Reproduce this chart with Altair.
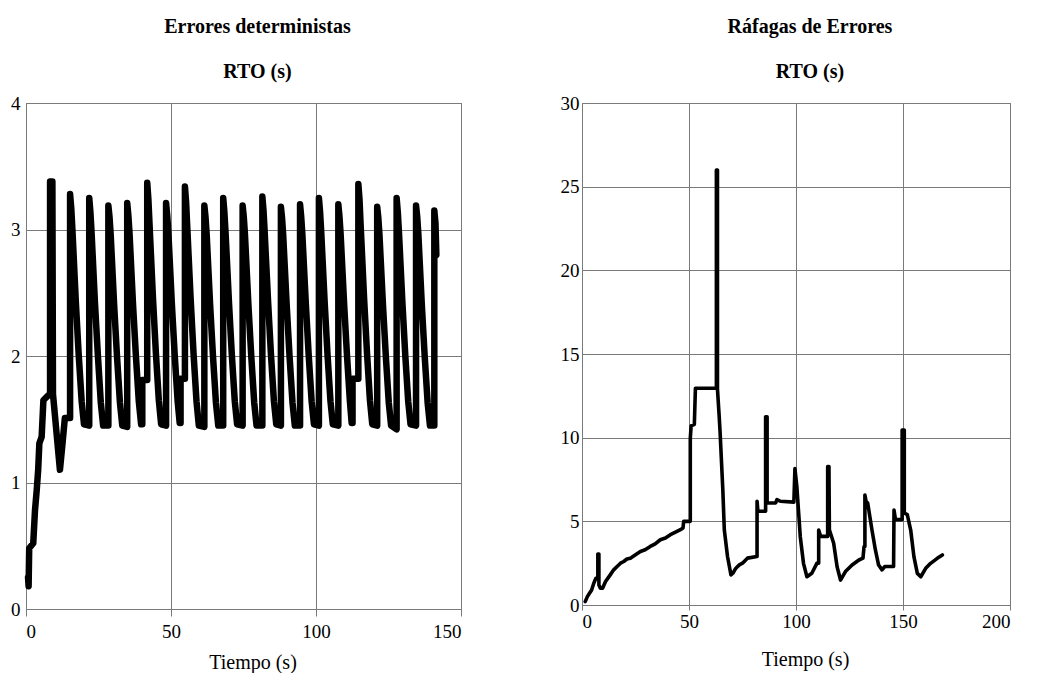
import altair as alt
import pandas as pd

FONT = "'Liberation Serif', 'Times New Roman', Times, serif"

# ---------------- Left panel: Errores deterministas ----------------
det_t = [
    0.7, 0.9, 1.1, 2.5, 3.1, 3.7, 4.2, 4.6, 5.4, 6.0, 7.7, 8.3,
    8.3, 9.1, 9.3, 11.7, 12.6, 13.4, 15.2,
    15.2, 15.6, 16.0, 17.2, 18.2, 19.2, 20.0, 21.8,
    21.8, 22.2, 22.6, 23.8, 24.8, 25.8, 26.6, 28.4,
    28.4, 28.8, 29.2, 30.4, 31.4, 32.4, 33.2, 34.9,
    34.9, 35.3, 35.7, 36.9, 37.9, 38.9, 39.7, 40.1, 40.1, 41.8,
    41.8, 42.2, 42.6, 43.8, 44.8, 45.8, 46.6, 48.3,
    48.3, 48.7, 49.1, 50.3, 51.3, 52.3, 53.0, 53.3, 53.3, 54.8,
    54.8, 55.2, 55.6, 56.8, 57.8, 58.8, 59.6, 61.5,
    61.5, 61.9, 62.3, 63.5, 64.5, 65.5, 66.3, 68.0,
    68.0, 68.4, 68.8, 70.0, 71.0, 72.0, 72.8, 74.7,
    74.7, 75.1, 75.5, 76.7, 77.7, 78.7, 79.5, 81.5,
    81.5, 81.9, 82.3, 83.5, 84.5, 85.5, 86.3, 87.9,
    87.9, 88.3, 88.7, 89.9, 90.9, 91.9, 92.7, 94.5,
    94.5, 94.9, 95.3, 96.5, 97.5, 98.5, 99.3, 101.0,
    101.0, 101.4, 101.8, 103.0, 104.0, 105.0, 105.8, 107.7,
    107.7, 108.1, 108.5, 109.7, 110.7, 111.7, 112.3, 112.6, 112.6, 114.6,
    114.6, 115.0, 115.4, 116.6, 117.6, 118.6, 119.4, 121.1,
    121.1, 121.5, 121.9, 123.1, 124.1, 125.1, 125.9, 127.8,
    127.8, 128.2, 128.6, 129.8, 130.8, 131.8, 132.6, 134.5,
    134.5, 134.9, 135.3, 136.5, 137.5, 138.5, 139.3, 140.8,
    140.8, 141.2, 141.5,
]
det_v = [
    0.25, 0.18, 0.48, 0.52, 0.78, 0.94, 1.10, 1.31, 1.36, 1.65, 1.69, 1.69,
    3.38, 3.38, 1.70, 1.10, 1.31, 1.51, 1.51,
    3.28, 3.17, 3.00, 2.42, 2.00, 1.64, 1.46, 1.45,
    3.25, 3.14, 2.98, 2.41, 2.00, 1.63, 1.45, 1.45,
    3.19, 3.10, 2.96, 2.40, 1.99, 1.63, 1.45, 1.44,
    3.21, 3.11, 2.97, 2.41, 2.00, 1.64, 1.46, 1.46, 1.81, 1.81,
    3.37, 3.24, 3.04, 2.45, 2.02, 1.65, 1.46, 1.45,
    3.21, 3.11, 2.97, 2.41, 2.00, 1.64, 1.47, 1.47, 1.82, 1.82,
    3.34, 3.22, 3.02, 2.44, 2.01, 1.64, 1.45, 1.44,
    3.19, 3.10, 2.96, 2.40, 1.99, 1.63, 1.45, 1.45,
    3.25, 3.14, 2.98, 2.42, 2.00, 1.64, 1.46, 1.45,
    3.19, 3.10, 2.96, 2.40, 1.99, 1.63, 1.45, 1.45,
    3.26, 3.15, 2.98, 2.42, 2.00, 1.64, 1.46, 1.45,
    3.18, 3.09, 2.95, 2.40, 1.99, 1.63, 1.45, 1.45,
    3.20, 3.10, 2.96, 2.41, 2.00, 1.64, 1.46, 1.45,
    3.25, 3.14, 2.98, 2.42, 2.00, 1.64, 1.46, 1.45,
    3.20, 3.10, 2.96, 2.41, 2.00, 1.64, 1.47, 1.47, 1.82, 1.82,
    3.36, 3.24, 3.03, 2.45, 2.02, 1.65, 1.46, 1.45,
    3.18, 3.09, 2.95, 2.40, 1.99, 1.63, 1.45, 1.42,
    3.25, 3.14, 2.98, 2.42, 2.00, 1.64, 1.46, 1.45,
    3.19, 3.10, 2.96, 2.40, 1.99, 1.63, 1.45, 1.45,
    3.15, 3.05, 2.80,
]

# ---------------- Right panel: Ráfagas de Errores ----------------
raf_t = [
    1.5, 2.5, 3.5, 4.5, 5.5, 6.5, 7.4, 7.4, 7.9, 7.9, 8.6, 9.6, 11.0, 13.2,
    14.8, 16.4, 18.0, 19.5, 21.0, 22.6, 25.0, 27.3, 29.5, 31.9, 34.2, 36.6,
    39.0, 41.3, 43.7, 46.0, 47.2, 47.5, 50.6, 50.6, 51.0, 52.5, 53.0, 62.8,
    62.8, 63.3, 63.3, 64.0, 64.5, 65.8, 66.5, 68.0, 69.6, 70.5, 71.9, 73.5,
    75.0, 77.3, 81.8, 81.8, 82.2, 85.8, 85.8, 86.5, 86.5, 90.5, 91.1, 92.7,
    99.0, 99.5, 100.4, 102.0, 103.5, 105.1, 107.4, 109.8, 110.6, 110.6, 111.5,
    114.8, 114.8, 115.4, 115.6, 117.6, 119.2, 120.8, 123.1, 126.2, 129.4,
    131.3, 131.8, 132.2, 132.2, 132.8, 133.5, 135.5, 137.1, 138.6, 140.2,
    141.5, 145.6, 145.8, 146.5, 149.6, 149.6, 150.6, 150.6, 152.0, 153.6,
    155.1, 156.7, 158.3, 160.6, 162.9, 166.0, 168.4,
]
raf_v = [
    0.2, 0.5, 0.7, 0.9, 1.3, 1.6, 1.6, 3.05, 3.05, 1.2, 1.0, 1.0, 1.4, 1.8,
    2.1, 2.3, 2.5, 2.6, 2.75, 2.8, 3.0, 3.2, 3.3, 3.5, 3.65, 3.9,
    4.0, 4.2, 4.35, 4.5, 4.6, 5.0, 5.0, 9.96, 10.7, 10.8, 12.95, 12.95,
    26.0, 26.0, 12.9, 11.5, 10.4, 6.9, 4.5, 2.9, 1.8, 1.9, 2.2, 2.4,
    2.5, 2.8, 2.9, 6.2, 5.6, 5.6, 11.25, 11.25, 6.1, 6.1, 6.3, 6.2,
    6.15, 8.15, 7.07, 4.08, 2.49, 1.69, 1.9, 2.5, 2.5, 4.48, 4.1,
    4.1, 8.27, 8.27, 4.5, 3.69, 2.29, 1.49, 2.0, 2.39, 2.69,
    2.8, 3.49, 3.49, 6.57, 6.17, 6.1, 4.48, 3.29, 2.39, 2.1,
    2.3, 2.3, 5.68, 5.1, 5.1, 10.46, 10.46, 5.5, 5.4, 4.48,
    2.89, 1.89, 1.69, 2.19, 2.49, 2.79, 2.99,
]

det_x_ticks = [0, 50, 100, 150]
det_y_ticks = [0, 1, 2, 3, 4]
raf_x_ticks = [0, 50, 100, 150, 200]
raf_y_ticks = [0, 5, 10, 15, 20, 25, 30]

det_df = pd.DataFrame({"t": det_t, "v": det_v, "i": range(len(det_t))})
raf_df = pd.DataFrame({"t": raf_t, "v": raf_v, "i": range(len(raf_t))})

GRID = "#7a7a7a"


def panel(df, title, xdom, ydom, xticks, yticks, w, h, sw, tick_x, lab_pad_x, title_pad_x, ylab_pad):
    return (
        alt.Chart(df)
        .mark_line(color="black", strokeWidth=sw, strokeCap="round", strokeJoin="round")
        .encode(
            x=alt.X(
                "t:Q",
                scale=alt.Scale(domain=xdom, nice=False, zero=False),
                axis=alt.Axis(
                    values=xticks, title="Tiempo (s)", labelPadding=lab_pad_x,
                    titlePadding=title_pad_x, tickSize=tick_x, titleX=w / 2 + 9,
                    labelFont=FONT, titleFont=FONT,
                ),
            ),
            y=alt.Y(
                "v:Q",
                scale=alt.Scale(domain=ydom, nice=False),
                axis=alt.Axis(values=yticks, title=None, labelPadding=ylab_pad, tickSize=0,
                              labelFont=FONT),
            ),
            order=alt.Order("i:Q"),
        )
        .properties(
            width=w,
            height=h,
            title=alt.TitleParams(
                text=title, subtitle="RTO (s)", dx=14, offset=12, subtitlePadding=25,
            ),
        )
    )


left = panel(det_df, "Errores deterministas", [0, 150], [0, 4], det_x_ticks, det_y_ticks,
             435, 506, 6.5, 7, 6, 11, 6)
right = panel(raf_df, "Ráfagas de Errores", [0, 200], [0, 30], raf_x_ticks, raf_y_ticks,
              428, 502, 3.6, 5, 2, 18, 3)

chart = (
    alt.hconcat(left, right, spacing=97)
    .properties(padding={"left": 2, "top": 8, "right": 0, "bottom": 0})
    .configure_view(stroke=GRID, strokeWidth=1)
    .configure_axis(
        grid=True, gridColor=GRID, gridWidth=1, gridOpacity=1,
        domainColor=GRID, domainWidth=1, tickColor=GRID,
        labelFont=FONT, labelFontSize=19, labelColor="black",
        titleFont=FONT, titleFontSize=20, titleFontWeight="normal", titleColor="black",
    )
    .configure_title(
        font=FONT, fontSize=20, fontWeight="bold", color="black", anchor="middle",
        subtitleFont=FONT, subtitleFontSize=20, subtitleFontWeight="bold", subtitleColor="black",
    )
)

chart.save("out.html", embed_options={"renderer": "svg", "actions": False})
